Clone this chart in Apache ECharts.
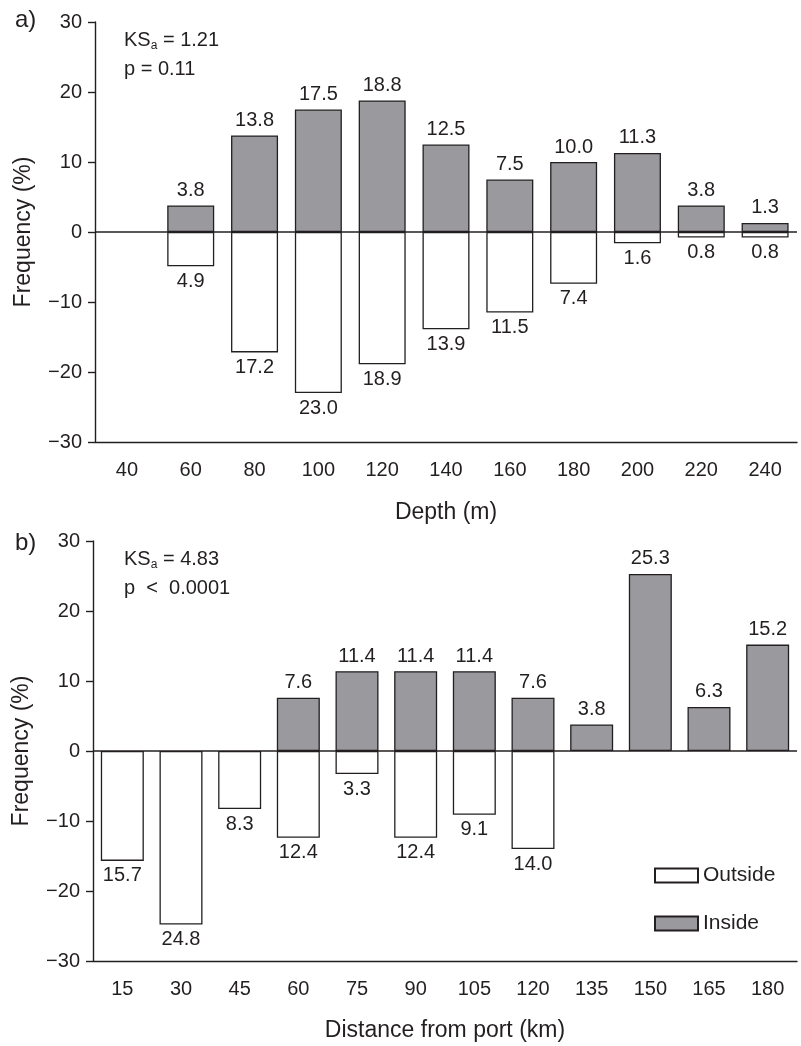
<!DOCTYPE html>
<html>
<head>
<meta charset="utf-8">
<script src="https://cdn.jsdelivr.net/npm/echarts@6/dist/echarts.min.js"></script>
<style>
html,body{margin:0;padding:0;background:#fff;}
#chart{width:801px;height:1046px;}
</style>
</head>
<body>
<div id="chart"></div>
<script>
// Panel a: depth
var depthCategories = ['40','60','80','100','120','140','160','180','200','220','240'];
var depthInside = [null, 3.8, 13.8, 17.5, 18.8, 12.5, 7.5, 10.0, 11.3, 3.8, 1.3];
var depthOutside = [null, 4.9, 17.2, 23.0, 18.9, 13.9, 11.5, 7.4, 1.6, 0.8, 0.8];
// Panel b: distance from port
var distCategories = ['15','30','45','60','75','90','105','120','135','150','165','180'];
var distInside = [null, null, null, 7.6, 11.4, 11.4, 11.4, 7.6, 3.8, 25.3, 6.3, 15.2];
var distOutside = [15.7, 24.8, 8.3, 12.4, 3.3, 12.4, 9.1, 14.0, null, null, null, null];
var yTicks = [-30, -20, -10, 0, 10, 20, 30];

var FONT = '"Liberation Sans", Arial, Helvetica, sans-serif';
var TXT = '#231f20';
var GRAY = '#9a999e';
var EDGE = '#231f20';

function neg(arr){ return arr.map(function(v){ return v == null ? null : -v; }); }
function fmt(p){ return Math.abs(p.value).toFixed(1); }

function xAx(idx, cats, name, gap){
  return {
    type:'category', gridIndex:idx, data:cats,
    axisLine:{onZero:false, lineStyle:{color:EDGE, width:1.4}},
    axisTick:{show:false},
    axisLabel:{color:TXT, fontSize:20, fontFamily:FONT, margin:18},
    name:name, nameLocation:'middle', nameGap:gap,
    nameTextStyle:{color:TXT, fontSize:23, fontFamily:FONT}
  };
}
function yAx(idx){
  return {
    type:'value', gridIndex:idx, min:yTicks[0], max:yTicks[yTicks.length-1], interval:10,
    axisLine:{show:true, lineStyle:{color:EDGE, width:1.4}},
    axisTick:{show:true, length:7, lineStyle:{color:EDGE, width:1.4}},
    axisLabel:{color:TXT, fontSize:20, fontFamily:FONT, margin:13,
      formatter:function(v){ return v < 0 ? '\u2212' + Math.abs(v) : String(v); }},
    splitLine:{show:false},
    name:'Frequency (%)', nameLocation:'middle', nameGap:60,
    nameTextStyle:{color:TXT, fontSize:23, fontFamily:FONT}
  };
}
function barSeries(name, idx, data, fill, pos, width){
  return {
    name:name, type:'bar', xAxisIndex:idx, yAxisIndex:idx, data:data,
    barWidth:width, barGap:'-100%',
    itemStyle:{color:fill, borderColor:EDGE, borderWidth:1.3},
    label:{show:true, position:pos, distance:5, color:TXT, fontSize:20, fontFamily:FONT, formatter:fmt},
    emphasis:{disabled:true},
    animation:false
  };
}
function zeroLine(idx){
  return {
    type:'line', xAxisIndex:idx, yAxisIndex:idx, data:[], silent:true, animation:false,
    markLine:{symbol:['none','none'], silent:true, label:{show:false},
      lineStyle:{color:EDGE, width:1.5, type:'solid'}, data:[{yAxis:0}]}
  };
}

var option = {
  backgroundColor:'#fff',
  animation:false,
  textStyle:{fontFamily:FONT},
  grid:[
    {left:95, top:22, width:702, height:420},
    {left:93, top:541, width:704, height:420}
  ],
  legend:{
    data:[{name:'Outside', icon:'rect'},{name:'Inside', icon:'rect'}],
    orient:'vertical', left:654, top:865,
    itemWidth:43, itemHeight:14, itemGap:27, itemTextGap:11, padding:0,
    textStyle:{color:TXT, fontSize:21, fontFamily:FONT},
    selectedMode:false
  },
  xAxis:[xAx(0, depthCategories, 'Depth (m)', 59), xAx(1, distCategories, 'Distance from port (km)', 58)],
  yAxis:[yAx(0), yAx(1)],
  series:[
    barSeries('Outside', 0, neg(depthOutside), '#ffffff', 'bottom', 47),
    barSeries('Inside', 0, depthInside, GRAY, 'top', 47),
    barSeries('Outside', 1, neg(distOutside), '#ffffff', 'bottom', 43),
    barSeries('Inside', 1, distInside, GRAY, 'top', 43),
    zeroLine(0), zeroLine(1)
  ],
  graphic:[
    {type:'text', left:15, top:8, style:{text:'a)', fontSize:24, fontFamily:FONT, fill:TXT}},
    {type:'text', left:15, top:531, style:{text:'b)', fontSize:24, fontFamily:FONT, fill:TXT}},
    {type:'text', left:124, top:26, style:{
      text:'KS{s|a} = 1.21\np = 0.11', fontSize:20, fontFamily:FONT, fill:TXT, lineHeight:29,
      rich:{s:{fontSize:12, fontFamily:FONT, fill:TXT, padding:[10,0,0,0]}}}},
    {type:'text', left:124, top:545, style:{
      text:'KS{s|a} = 4.83\np  <  0.0001', fontSize:20, fontFamily:FONT, fill:TXT, lineHeight:29,
      rich:{s:{fontSize:12, fontFamily:FONT, fill:TXT, padding:[10,0,0,0]}}}}
  ]
};
var chart = echarts.init(document.getElementById('chart'), null, {renderer:'canvas'});
chart.setOption(option);
</script>
</body>
</html>
